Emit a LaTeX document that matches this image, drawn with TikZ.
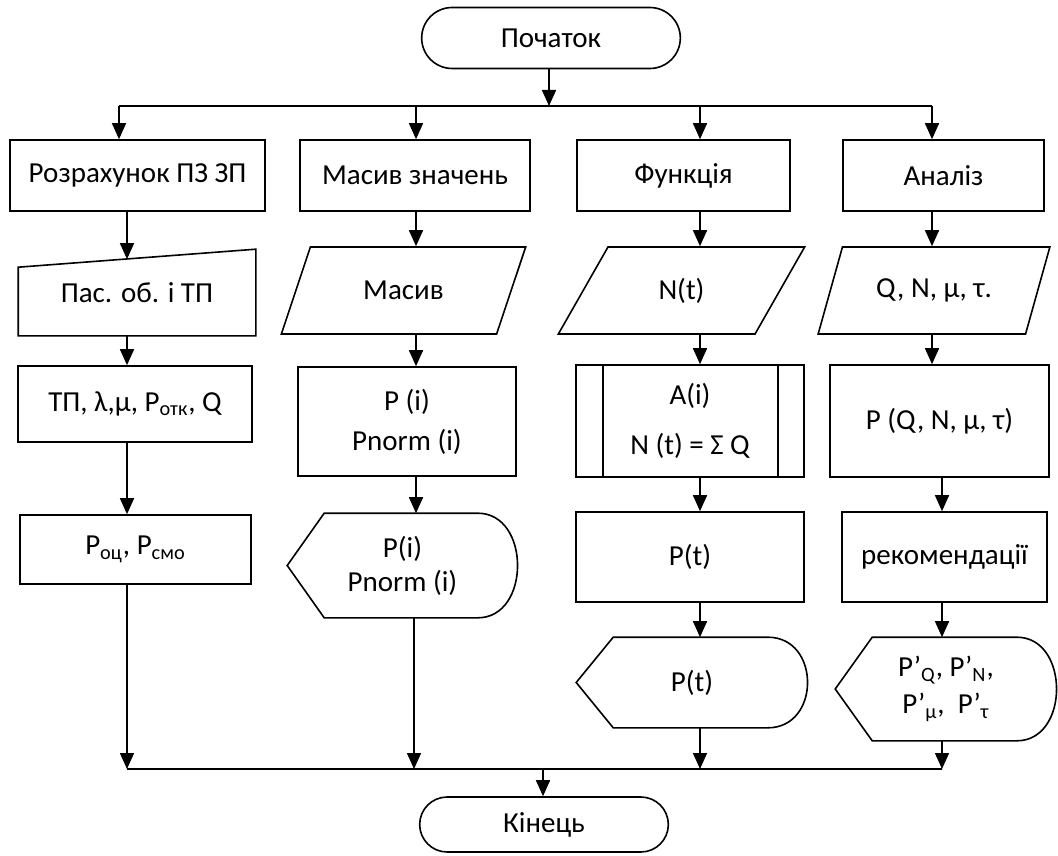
\documentclass[tikz,border=0pt]{standalone}
\usepackage{fontspec}
\setmainfont{Carlito}
\usetikzlibrary{arrows.meta,shapes.geometric,shapes.misc,calc}

\begin{document}
\begin{tikzpicture}[x=0.5pt, y=-0.5pt, line width=0.8pt, font=\fontsize{14.5}{17}\selectfont,
 proc/.style={rectangle, draw, align=center, inner sep=2pt},
 term/.style={rounded rectangle, draw},
 io/.style={trapezium, trapezium left angle=60, trapezium right angle=120, trapezium stretches=true, draw, align=center, inner sep=1pt},
 shapebox/.style={rectangle, align=center, inner sep=2pt},
 >={Triangle[length=8pt,width=7pt]}]
\useasboundingbox (0,0) rectangle (1058,855);
% start and end
\node[term, minimum width=136pt, minimum height=30.5pt] (start) at (551,38) {Початок};
\node[term, minimum width=131pt, minimum height=27.5pt] (end) at (544,824.5) {Кінець};
% first row
\node[proc, minimum width=127.5pt, minimum height=35.5pt] (calc) at (137.5,175.5) {Розрахунок ПЗ ЗП};
\node[proc, minimum width=115pt, minimum height=35.5pt] (arr) at (415,175.5) {Масив значень};
\node[proc, minimum width=106.5pt, minimum height=35.5pt] (func) at (683.5,175.5) {Функція};
\node[proc, minimum width=100.5pt, minimum height=35.5pt] (anal) at (943.5,175.5) {Аналіз};
% input
\node[shapebox, minimum width=118pt, minimum height=42.5pt] (pas) at (137,292.5) {Пас. об. і ТП};
\draw ($(pas.north west)+(0,18)$) -- (pas.north east) -- (pas.south east) -- (pas.south west) -- cycle;
\node[io, minimum width=122.5pt, minimum height=43.5pt] (mas) at (403.5,290.5) {Масив};
\node[io, minimum width=123.5pt, minimum height=43.5pt] (nt) at (681.5,290.5) {N(t)};
\node[io, minimum width=116pt, minimum height=43.5pt] (qnm) at (934,290.5) {Q, N, μ, τ.};
% calculations
\node[proc, minimum width=117pt, minimum height=38pt] (tp) at (135,404) {ТП, λ,μ, P\textsubscript{отк}, Q};
\node[proc, minimum width=109pt, minimum height=54.5pt] (pi) at (407,421.5) {P (i)\\[3pt] Pnorm (i)};
\node[proc, minimum width=114pt, minimum height=56pt] (ai) at (690,421) {A(i)\\[8pt] N (t) = Σ Q};
\draw ($(ai.north west)+(28,0)$) -- ($(ai.south west)+(28,0)$) ($(ai.north east)+(-27,0)$) -- ($(ai.south east)+(-27,0)$);
\node[proc, minimum width=109.5pt, minimum height=56pt] (pq) at (939.5,421) {P (Q, N, μ, τ)};
\node[proc, minimum width=115.5pt, minimum height=34.5pt] (poc) at (135.5,549.5) {P\textsubscript{оц}, P\textsubscript{смо}};
\node[proc, minimum width=114pt, minimum height=45pt] (pt) at (690,557) {P(t)};
\node[proc, minimum width=102.5pt, minimum height=45pt] (rec) at (944.5,557) {рекомендації};
% output
\node[shapebox, minimum width=114.5pt, minimum height=51.5pt] (outpi) at (402.5,565.5) {P(i)\\Pnorm (i)};
\node[shapebox, minimum width=115pt, minimum height=44.5pt] (outpt) at (692,682.5) {P(t)};
\node[shapebox, minimum width=110pt, minimum height=51pt] (outpr) at (946,689) {P’\textsubscript{Q}, P’\textsubscript{N},\\[1.5pt] P’\textsubscript{μ},~~P’\textsubscript{τ}};
\foreach \n in {outpi,outpt,outpr}
  \draw (\n.west) -- ($(\n.north west)+(37,0)$) -- ($(\n.north east)+(-40,0)$) .. controls ($(\n.north east)+(13,0)$) and ($(\n.south east)+(13,0)$) .. ($(\n.south east)+(-40,0)$) -- ($(\n.south west)+(37,0)$) -- cycle;
% buses
\coordinate (top) at (549,106); \coordinate (bot) at (543,769);
\coordinate (t1) at (119,106); \coordinate (t2) at (416,106); \coordinate (t3) at (700,106); \coordinate (t4) at (932,106);
\coordinate (b1) at (127,769); \coordinate (b2) at (414,769); \coordinate (b3) at (700,769); \coordinate (b4) at (942,769);
\draw[->] (start.south -| top) -- (top);
\draw (t1) -- (t4); \draw (b1) -- (b4);
\draw[->] (t1) -- (calc.north -| t1); \draw[->] (t2) -- (arr.north -| t2); \draw[->] (t3) -- (func.north -| t3); \draw[->] (t4) -- (anal.north -| t4);
\draw[->] (bot) -- (end.north -| bot);
% column 1
\draw[->] (calc.south -| b1) -- ($(pas.north -| b1)+(0,10)$);
\draw[->] (pas.south -| b1) -- (tp.north -| b1); \draw[->] (tp.south -| b1) -- (poc.north -| b1); \draw[->] (poc.south -| b1) -- (b1);
% column 2
\draw[->] (arr.south -| t2) -- (mas.north -| t2); \draw[->] (mas.south -| t2) -- (pi.north -| t2); \draw[->] (pi.south -| t2) -- (outpi.north -| t2); \draw[->] (outpi.south -| b2) -- (b2);
% column 3
\draw[->] (func.south -| t3) -- (nt.north -| t3); \draw[->] (nt.south -| t3) -- (ai.north -| t3); \draw[->] (ai.south -| t3) -- (pt.north -| t3);
\draw[->] (pt.south -| t3) -- (outpt.north -| t3); \draw[->] (outpt.south -| b3) -- (b3);
% column 4
\draw[->] (anal.south -| t4) -- (qnm.north -| t4); \draw[->] (qnm.south -| t4) -- (pq.north -| t4); \draw[->] (pq.south -| b4) -- (rec.north -| b4);
\draw[->] (rec.south -| b4) -- (outpr.north -| b4); \draw[->] (outpr.south -| b4) -- (b4);
\end{tikzpicture}
\end{document}
